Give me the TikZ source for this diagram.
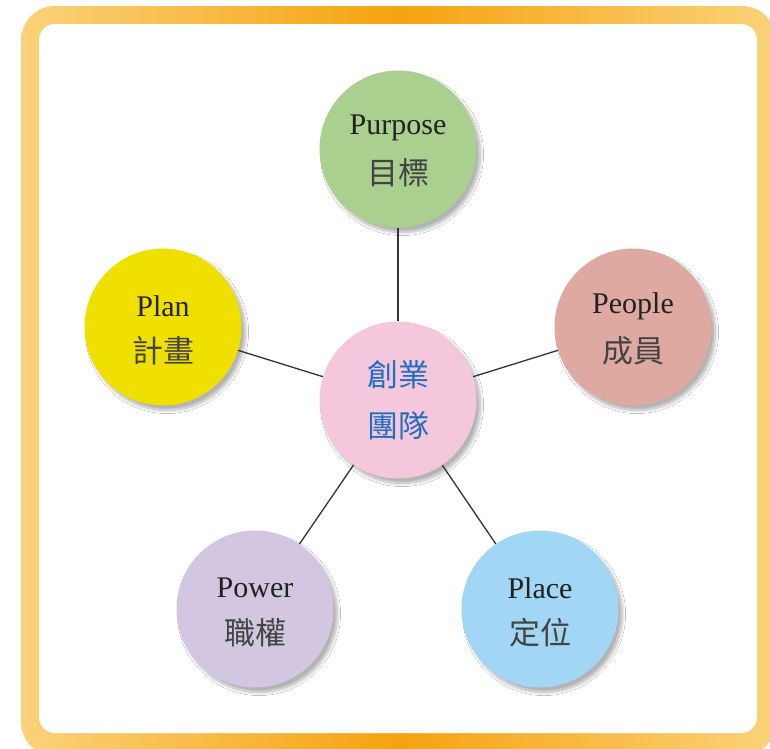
\documentclass[tikz,border=0pt]{standalone}
\usepackage{fontspec}
\setmainfont{Liberation Serif}
\newfontfamily\cjk{Noto Sans CJK TC}
\usetikzlibrary{shadows.blur}
\definecolor{frameedge}{HTML}{FBD27A}
\definecolor{framemid}{HTML}{F5A30F}
\definecolor{cPurpose}{HTML}{A9D08F}
\definecolor{cPlan}{HTML}{EFE000}
\definecolor{cPeople}{HTML}{DEA9A1}
\definecolor{cCenter}{HTML}{F4C7DD}
\definecolor{cPower}{HTML}{D3C6E1}
\definecolor{cPlace}{HTML}{A1D6F4}
\definecolor{cBlue}{HTML}{1F6EC0}
\definecolor{cLine}{HTML}{333333}
\definecolor{cText}{HTML}{222222}
\begin{document}
\begin{tikzpicture}[x=1pt,y=-1pt,
  bubble/.style={circle,minimum size=157pt,inner sep=0pt,
    blur shadow={shadow xshift=4pt,shadow yshift=-5pt,shadow blur radius=3pt,shadow blur steps=12,shadow opacity=30}},
  entext/.style={font=\fontsize{30}{33}\selectfont,text=cText,inner sep=0pt},
  zhtext/.style={font=\cjk\fontsize{31}{34}\selectfont,text=cText!85,inner sep=0pt},
  zhblue/.style={font=\cjk\fontsize{31}{34}\selectfont,text=cBlue,inner sep=0pt},
  link/.style={draw=cLine,line width=1.3pt}]
\useasboundingbox (0,0) rectangle (770,748);
\begin{scope}
\clip (0,0) rectangle (770,748);
\shade[left color=frameedge,right color=frameedge,middle color=framemid,rounded corners=34pt]
  (21,6) rectangle (776,756);
\fill[white,rounded corners=16pt] (39,24) rectangle (757,733);
\end{scope}
% nodes
\node[bubble,fill=cCenter] (center) at (398,400) {};
\node[bubble,fill=cPurpose] (purpose) at (398,149) {};
\node[bubble,fill=cPlan] (plan) at (163,327) {};
\node[bubble,fill=cPeople] (people) at (633,327) {};
\node[bubble,fill=cPower] (power) at (255,609) {};
\node[bubble,fill=cPlace] (place) at (540,609) {};
% connectors
\draw[link] (center) -- (purpose);
\draw[link] (center) -- (plan);
\draw[link] (center) -- (people);
\draw[link] (center) -- (power);
\draw[link] (center) -- (place);
% texts
\node[zhblue] (t0a) at ([yshift=25pt]center.center) {創業};
\node[zhblue] (t0b) at ([yshift=-26pt]center.center) {團隊};
\node[entext] (t1a) at ([yshift=21pt]purpose.center) {Purpose};
\node[zhtext] (t1b) at ([yshift=-24pt]purpose.center) {目標};
\node[entext] (t2a) at ([yshift=21pt]plan.center) {Plan};
\node[zhtext] (t2b) at ([yshift=-24pt]plan.center) {計畫};
\node[entext] (t3a) at ([yshift=21pt]people.center) {People};
\node[zhtext] (t3b) at ([yshift=-24pt]people.center) {成員};
\node[entext] (t4a) at ([yshift=21pt]power.center) {Power};
\node[zhtext] (t4b) at ([yshift=-24pt]power.center) {職權};
\node[entext] (t5a) at ([yshift=21pt]place.center) {Place};
\node[zhtext] (t5b) at ([yshift=-24pt]place.center) {定位};
\end{tikzpicture}
\end{document}
